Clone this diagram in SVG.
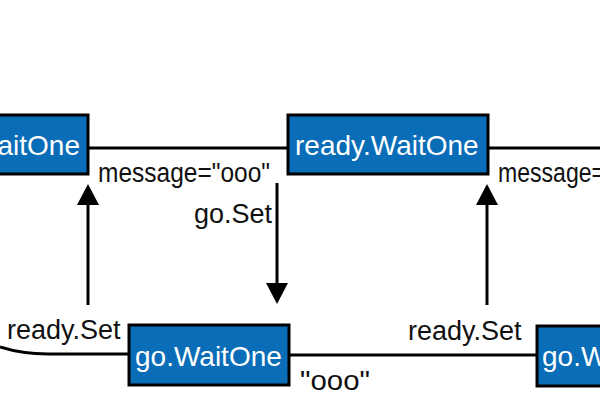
<svg xmlns="http://www.w3.org/2000/svg" width="600" height="400" viewBox="0 0 600 400">
<style>
.box{fill:#0a6db8;stroke:#000;stroke-width:3}
.nt{font-family:"Liberation Sans",Arial,sans-serif;font-size:28px;fill:#fff}
.lb{font-family:"Liberation Sans",Arial,sans-serif;font-size:27px;fill:#111}
.ln{fill:none;stroke:#000;stroke-width:3}
</style>
<defs>
<marker id="ah" markerUnits="userSpaceOnUse" markerWidth="22" markerHeight="24" viewBox="0 0 22 24" refX="17" refY="12" orient="auto">
<path d="M0,1 L21,12 L0,23 Z" fill="#000"/>
</marker>
</defs>
<rect width="600" height="400" fill="#fff"/>
<g id="connectors">
<line class="ln" x1="88" y1="148" x2="288" y2="148"/>
<line class="ln" x1="488" y1="148" x2="600" y2="148"/>
<path class="ln" d="M0,347 Q22,354 48,354 L129,354"/>
<line class="ln" x1="289" y1="355" x2="537" y2="355"/>
<line class="ln" x1="88" y1="305" x2="88" y2="188" marker-end="url(#ah)"/>
<line class="ln" x1="277" y1="183" x2="277" y2="300" marker-end="url(#ah)"/>
<line class="ln" x1="487" y1="305" x2="487" y2="188" marker-end="url(#ah)"/>
</g>
<g id="node-ready-left">
<rect class="box" x="-112" y="115" width="200" height="59"/>
<text class="nt" x="80" y="155" text-anchor="end">aitOne</text>
</g>
<g id="node-ready-mid">
<rect class="box" x="288" y="115" width="200" height="59"/>
<text class="nt" x="295" y="155">ready.WaitOne</text>
</g>
<g id="node-go-mid">
<rect class="box" x="129" y="325" width="160" height="60"/>
<text class="nt" x="135" y="366">go.WaitOne</text>
</g>
<g id="node-go-right">
<rect class="box" x="537" y="326" width="160" height="60"/>
<text class="nt" x="542" y="366">go.W</text>
</g>
<g id="labels">
<text class="lb" x="98" y="182" textLength="172" lengthAdjust="spacingAndGlyphs">message="ooo"</text>
<text class="lb" x="498" y="182" textLength="107" lengthAdjust="spacingAndGlyphs">message=</text>
<text class="lb" x="272" y="223" text-anchor="end">go.Set</text>
<text class="lb" x="7" y="339">ready.Set</text>
<text class="lb" x="408" y="340">ready.Set</text>
<text class="lb" x="300" y="390" textLength="70" lengthAdjust="spacingAndGlyphs">"ooo"</text>
</g>
</svg>
